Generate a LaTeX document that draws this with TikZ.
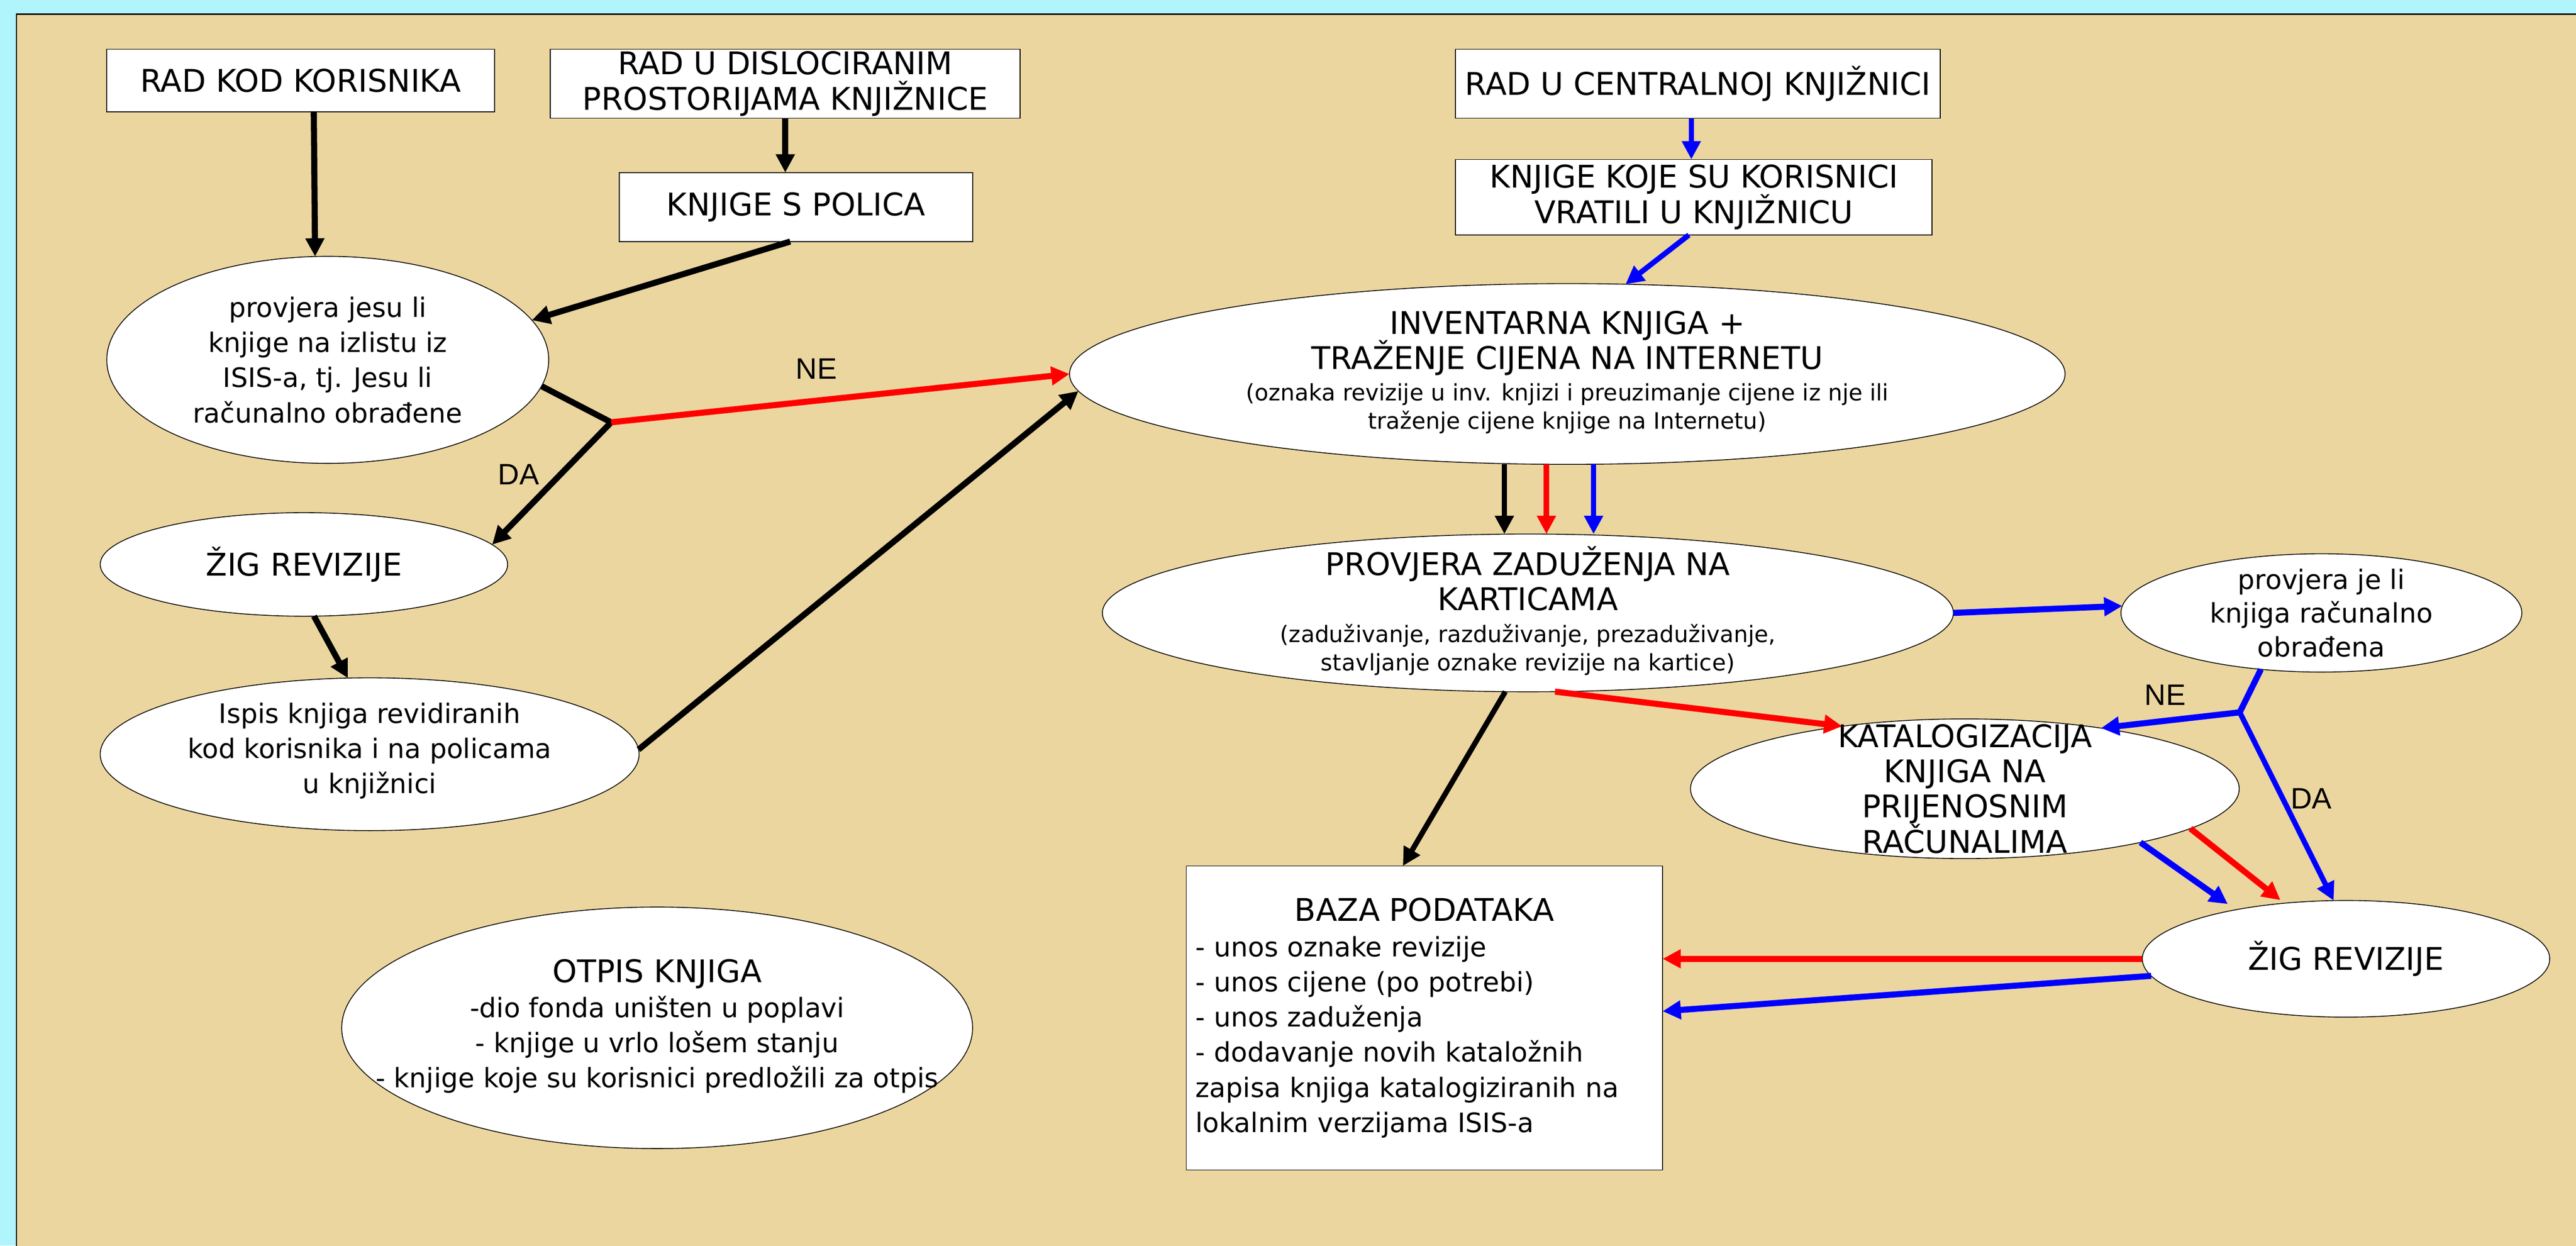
\documentclass[tikz,border=0pt]{standalone}
\usepackage{fontspec}
\setmainfont{DejaVu Sans}
\newfontfamily\arialfont{Liberation Sans}
\usetikzlibrary{arrows.meta}
\usetikzlibrary{shapes.geometric}
\usetikzlibrary{positioning}

\definecolor{pozadina}{RGB}{176,244,252}
\definecolor{okvir}{RGB}{236,214,160}
\newcommand\velika{\fontsize{19}{21.4}\selectfont}
\newcommand\mala{\fontsize{16.3}{21.4}\selectfont}
\newcommand\sitna{\fontsize{13.8}{17.4}\selectfont}
\lineskiplimit=-50pt

\tikzset{
	kutija/.style={draw,fill=white,line width=0.5pt,inner sep=0pt,outer sep=0pt,align=center,font=\velika},
	elipsa/.style={draw,fill=white,ellipse,line width=0.5pt,inner sep=0pt,outer sep=0pt},
	tekst/.style={align=center,inner sep=0pt,font=\mala},
	oznaka/.style={inner sep=0pt,font=\arialfont\fontsize{18}{21}\selectfont},
	strelica/.style={line width=3.7pt,-{Triangle[length=11.1pt,width=11pt]}},
	tanka/.style={line width=3.25pt,-{Triangle[length=11.1pt,width=11pt]}},
	crta/.style={line width=3.7pt}
}

\begin{document}
\begin{tikzpicture}[x=1pt,y=-1pt]
		\useasboundingbox (0,0) rectangle (1568,758);
		\fill[pozadina] (0,0) rectangle (1568,758);
		\filldraw[fill=okvir,draw=black,line width=0.7pt] (10,8.6) rectangle (1600,790);

		\node[kutija,minimum width=236pt,minimum height=38pt] (kor) at (183,49) {RAD KOD KORISNIKA};
		\node[kutija,minimum width=286pt,minimum height=42pt] (dis) at (478,51) {RAD U DISLOCIRANIM\\PROSTORIJAMA KNJIŽNICE};
		\node[kutija,minimum width=215pt,minimum height=42pt,below=33pt of dis,xshift=6.5pt] (pol) {KNJIGE S POLICA};
		\node[kutija,minimum width=295pt,minimum height=42pt] (cen) at (1033.5,51) {RAD U CENTRALNOJ KNJIŽNICI};
		\node[kutija,minimum width=290pt,minimum height=46pt,below=25pt of cen,xshift=-2.5pt] (vra) {KNJIGE KOJE SU KORISNICI\\VRATILI U KNJIŽNICU};

		\node[elipsa,minimum width=269pt,minimum height=126pt,label={[tekst]center:{provjera jesu li\\knjige na izlistu iz\\ISIS-a, tj. Jesu li\\računalno obrađene}}] (prov) at (199.5,219) {};
		\node[elipsa,minimum width=248pt,minimum height=63pt,label={[tekst,font=\velika]center:ŽIG REVIZIJE}] (zig) at (185,343.5) {};
		\node[elipsa,minimum width=328pt,minimum height=93pt,label={[tekst,yshift=2pt]center:{Ispis knjiga revidiranih\\kod korisnika i na policama\\u knjižnici}}] (isp) at (225,459) {};
		\node[elipsa,minimum width=384pt,minimum height=147pt,label={[tekst,yshift=1pt]center:{{\velika OTPIS KNJIGA}\\-dio fonda uništen u poplavi\\- knjige u vrlo lošem stanju\\- knjige koje su korisnici predložili za otpis}}] (otp) at (400,625.5) {};
		\node[elipsa,minimum width=606pt,minimum height=110pt,label={[tekst,font=\velika,yshift=1pt]center:{INVENTARNA KNJIGA +\\TRAŽENJE CIJENA NA INTERNETU\\[-2.4pt]{\sitna (oznaka revizije u inv. knjizi i preuzimanje cijene iz nje ili}\\[-4pt]{\sitna traženje cijene knjige na Internetu)}}}] (inv) at (954,227.6) {};
		\node[elipsa,minimum width=518pt,minimum height=96pt,label={[tekst,font=\velika,yshift=1.3pt]center:{PROVJERA ZADUŽENJA NA\\KARTICAMA\\[-2pt]{\sitna (zaduživanje, razduživanje, prezaduživanje,}\\[-4pt]{\sitna stavljanje oznake revizije na kartice)}}}] (zad) at (930,373) {};
		\node[elipsa,minimum width=244pt,minimum height=72pt,label={[tekst,font=\fontsize{16.3}{20.6}\selectfont]center:{provjera je li\\knjiga računalno\\obrađena}}] (obr) at (1413,373) {};
		\node[elipsa,minimum width=334pt,minimum height=85pt,label={[tekst,font=\velika]center:{KATALOGIZACIJA\\KNJIGA NA\\PRIJENOSNIM\\RAČUNALIMA}}] (kat) at (1196,480) {};
		\node[elipsa,minimum width=248pt,minimum height=71pt,label={[tekst,font=\velika]center:ŽIG REVIZIJE}] (zig2) at (1428,583.5) {};

		\node[kutija,minimum width=290pt,minimum height=185pt,text width=278.6pt,inner xsep=5.7pt,align=left,font=\mala] (baza) at (867,619.5) {\makebox[\linewidth]{\velika BAZA PODATAKA}\\- unos oznake revizije\\- unos cijene (po potrebi)\\- unos zaduženja\\- dodavanje novih kataložnih\\zapisa knjiga katalogiziranih na\\lokalnim verzijama ISIS-a};

		\coordinate (g1) at (372,257);
		\coordinate (g2) at (1363.3,433.5);

		\draw[strelica] ([xshift=8pt]kor.south) -- (prov.97.7);
		\draw[strelica] (dis.south) -- (dis.south |- pol.north);
		\draw[strelica] ([xshift=-3.5pt]pol.south) -- (prov.11.4);
		\draw[strelica] (prov.-7.2) -- (g1) -- (zig.6.1);
		\draw[strelica,red] (g1) -- (inv.west);
		\draw[strelica] (zig.-79.1) -- (isp.106.8);
		\draw[strelica] (isp.1.2) -- (inv.182.5);

		\draw[tanka,blue] ([xshift=-4pt]cen.south) -- ([xshift=-4pt]cen.south |- vra.north);
		\draw[tanka,blue] ([xshift=-3pt]vra.south) -- (inv.57);
		\draw[tanka] ([xshift=-38.3pt]inv.south) -- ([xshift=-38.3pt]inv.south |- zad.north);
		\draw[tanka,red] ([xshift=-12.7pt]inv.south) -- ([xshift=-12.7pt]inv.south |- zad.north);
		\draw[tanka,blue] ([xshift=16pt]inv.south) -- ([xshift=16pt]inv.south |- zad.north);

		\draw[strelica,blue] (zad.0.6) -- (obr.178.8);
		\draw[strelica,blue] (obr.-137.5) -- (g2) -- (kat.24.5);
		\draw[tanka,blue] (g2) -- (zig2.102.4);
		\draw[strelica,red] (zad.-71.9) -- (kat.153.4);
		\draw[tanka] (zad.-106.8) -- ([xshift=-13.1pt]baza.north);
		\draw[strelica,blue,shorten >=6pt] (kat.-17.4) -- (zig2.156.8);
		\draw[strelica,red,shorten >=3pt] (kat.-10.7) -- (zig2.138.6);
		\draw[strelica,red] (zig2.180.8) -- (baza.east |- zig2.180.8);
		\draw[strelica,blue] (zig2.185) -- ([yshift=4.1pt]baza.east);

		\node[oznaka] (ne1) at (497,224.5) {NE};
		\node[oznaka] (da1) at (315.7,288.7) {DA};
		\node[oznaka] (ne2) at (1318,422.9) {NE};
		\node[oznaka] (da2) at (1406.8,486) {DA};
	\end{tikzpicture}
\end{document}
